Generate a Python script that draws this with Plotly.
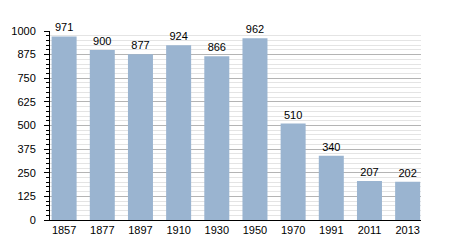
import plotly.graph_objects as go

years = ["1857", "1877", "1897", "1910", "1930", "1950", "1970", "1991", "2011", "2013"]
population = [971, 900, 877, 924, 866, 962, 510, 340, 207, 202]
y_ticks = [0, 125, 250, 375, 500, 625, 750, 875, 1000]

fig = go.Figure(go.Bar(
    x=years, y=population,
    marker=dict(color="#9ab4d0", line=dict(width=0)),
    text=[str(v) for v in population], textposition="outside",
    textfont=dict(size=11, color="#000000", family="Liberation Sans, Arial"),
    cliponaxis=False,
    width=0.655,
))

fig.update_layout(
    width=450, height=250,
    margin=dict(l=50, r=29, t=31, b=30),
    paper_bgcolor="white", plot_bgcolor="white",
    font=dict(family="Liberation Sans, Arial", size=11, color="#000000"),
    showlegend=False,
    xaxis=dict(type="category", range=[-0.37, 9.35], showline=True, linecolor="#000000",
               linewidth=1, ticks="", showgrid=False, tickfont=dict(size=11)),
    yaxis=dict(range=[0, 1000], tickvals=y_ticks, showline=True, linecolor="#000000",
               linewidth=1, ticks="outside", ticklen=5, tickcolor="#000000",
               ticklabelstandoff=6,
               gridcolor="#b4b4b4", gridwidth=1, zeroline=False,
               tickfont=dict(size=11),
               minor=dict(dtick=25, showgrid=True, gridcolor="#e4e4e4", ticks="outside",
                          ticklen=3, tickcolor="#000000")),
)

fig.write_html("out.html")
